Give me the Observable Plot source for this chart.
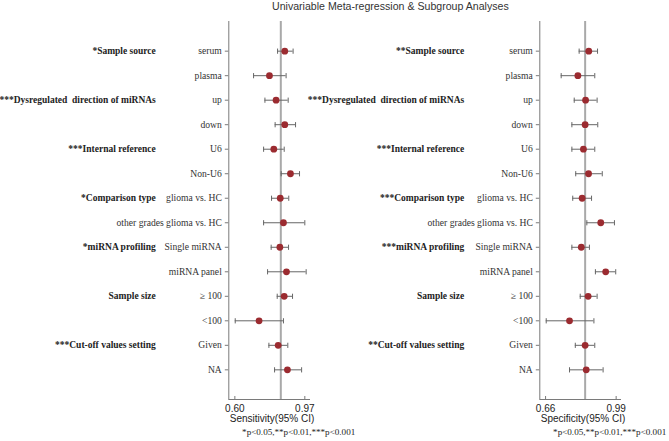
<!DOCTYPE html>
<html>
<head>
<meta charset="utf-8">
<script src="https://cdn.jsdelivr.net/npm/d3@7"></script>
<script src="https://cdn.jsdelivr.net/npm/@observablehq/plot@0.6"></script>
<style>
  html, body { margin: 0; padding: 0; background: #fff; }
  #wrap { position: relative; width: 669px; height: 441px; overflow: hidden; background: #fff; }
  #title { position: absolute; left: 272px; top: 0px; font: 10.6px "Liberation Sans", Arial, sans-serif; color: #333; white-space: nowrap; }
  .panel { position: absolute; top: 0; }
</style>
</head>
<body>
<div id="wrap">
  <div id="title">Univariable Meta-regression &amp; Subgroup Analyses</div>
</div>
<script>
// ---- data ----
const categories = ["serum", "plasma", "up", "down", "U6", "Non-U6", "glioma vs. HC",
  "other grades glioma vs. HC", "Single miRNA", "miRNA panel", "\u2265 100", "<100", "Given", "NA"];
const groupNames = ["Sample source", "Dysregulated\u00a0 direction of miRNAs", "Internal reference",
  "Comparison type", "miRNA profiling", "Sample size", "Cut-off values setting"];
const groupRows = [0, 2, 4, 6, 8, 10, 12];
const sensStars = ["*", "***", "***", "*", "*", "", "***"];
const specStars = ["**", "***", "***", "***", "***", "", "**"];

const sensEst  = [0.864, 0.783, 0.818, 0.864, 0.806, 0.894, 0.840, 0.857, 0.838, 0.873, 0.861, 0.728, 0.829, 0.878];
const sensLow  = [0.826, 0.699, 0.759, 0.813, 0.752, 0.845, 0.794, 0.752, 0.792, 0.773, 0.824, 0.602, 0.780, 0.810];
const sensHigh = [0.908, 0.871, 0.882, 0.921, 0.861, 0.942, 0.885, 0.970, 0.884, 0.977, 0.905, 0.857, 0.880, 0.953];
const sensPooled = 0.843;

const specEst  = [0.862, 0.811, 0.847, 0.845, 0.837, 0.861, 0.831, 0.918, 0.827, 0.941, 0.859, 0.772, 0.845, 0.850];
const specLow  = [0.817, 0.733, 0.794, 0.783, 0.783, 0.801, 0.787, 0.853, 0.783, 0.893, 0.822, 0.663, 0.799, 0.772];
const specHigh = [0.903, 0.890, 0.901, 0.904, 0.890, 0.925, 0.875, 0.982, 0.865, 0.988, 0.901, 0.886, 0.890, 0.929];
const specPooled = 0.845;

const sensTicks = [0.60, 0.97];
const specTicks = [0.66, 0.99];
const sensDomain = [0.568, 1.0];
const specDomain = [0.633, 1.015];
const footnote = "*p<0.05,**p<0.01,***p<0.001";

// ---- drawing ----
const SERIF = '"Liberation Serif", "Times New Roman", serif';
const SANS = '"Liberation Sans", Arial, sans-serif';
const yDomain = [-1.21, categories.length - 1 + 1.21];

const capSymbol = {
  draw(ctx) { ctx.moveTo(0, -2.6); ctx.lineTo(0, 2.6); }
};

function panel({est, low, high, pooled, ticks, domain, stars, label, left, width, marginLeft, marginRight, groupDx}) {
  const rows = categories.map((c, i) => ({i, c, est: est[i], low: low[i], high: high[i]}));
  const groups = groupNames.map((g, k) => ({i: groupRows[k], text: stars[k] + g}));
  const chart = Plot.plot({
    width, height: 441,
    marginTop: 21, marginBottom: 42, marginLeft, marginRight,
    style: {background: "transparent", overflow: "visible", fontFamily: SANS},
    x: {domain, ticks},
    y: {domain: yDomain, reverse: true},
    marks: [
      Plot.ruleX([pooled], {stroke: "#a9a9a9", strokeWidth: 2}),
      Plot.ruleX([domain[0]], {stroke: "#7a7a7a", strokeWidth: 1}),
      Plot.ruleY([yDomain[1]], {stroke: "#7a7a7a", strokeWidth: 1}),
      Plot.axisY({ticks: d3.range(categories.length), tickFormat: i => categories[i],
        tickSize: 3.5, tickPadding: 3.5, fontSize: 9.6, fontFamily: SERIF,
        stroke: "#7a7a7a", fill: "#333", label: null}),
      Plot.axisX({ticks, tickFormat: d3.format(".2f"), tickSize: -3, tickPadding: 8,
        fontSize: 10, fontFamily: SANS, stroke: "#7a7a7a", fill: "#222", label: null}),
      Plot.ruleY(rows, {y: "i", x1: "low", x2: "high", stroke: "#666", strokeWidth: 1}),
      Plot.dot(rows, {x: "low", y: "i", symbol: capSymbol, fill: "none", stroke: "#666", strokeWidth: 1}),
      Plot.dot(rows, {x: "high", y: "i", symbol: capSymbol, fill: "none", stroke: "#666", strokeWidth: 1}),
      Plot.dot(rows, {x: "est", y: "i", r: 3.4, fill: "#9b2b30", stroke: "none"}),
      Plot.text(groups, {y: "i", text: "text", frameAnchor: "left", dx: groupDx, textAnchor: "end",
        fontFamily: SERIF, fontWeight: "bold", fontSize: 9.5, fill: "#222"}),
      Plot.text([label], {frameAnchor: "bottom-left", dx: 1, dy: 22.5, textAnchor: "start",
        fontFamily: SANS, fontSize: 10, fill: "#222"}),
      Plot.text([footnote], {frameAnchor: "bottom-left", dx: 13.3, dy: 35, textAnchor: "start",
        fontFamily: SERIF, fontSize: 9.1, fill: "#222"})
    ]
  });
  chart.classList.add("panel");
  chart.style.left = left + "px";
  document.getElementById("wrap").appendChild(chart);
}

panel({est: sensEst, low: sensLow, high: sensHigh, pooled: sensPooled, ticks: sensTicks,
  domain: sensDomain, stars: sensStars, label: "Sensitivity(95% CI)",
  left: 0, width: 330, marginLeft: 228.3, marginRight: 20, groupDx: -73});
panel({est: specEst, low: specLow, high: specHigh, pooled: specPooled, ticks: specTicks,
  domain: specDomain, stars: specStars, label: "Specificity(95% CI)",
  left: 300, width: 369, marginLeft: 239.3, marginRight: 48, groupDx: -75.6});
</script>
</body>
</html>
